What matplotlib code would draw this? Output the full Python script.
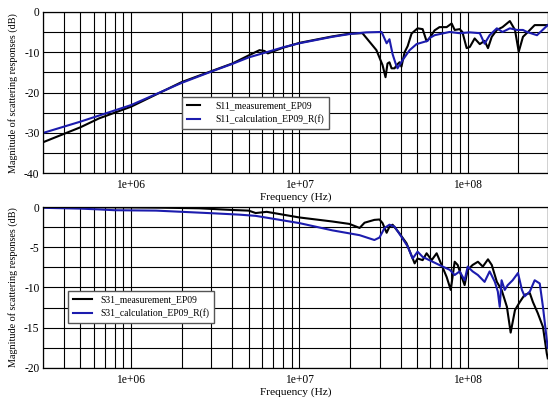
import numpy as np
import matplotlib
matplotlib.use('Agg')
import matplotlib.pyplot as plt
from matplotlib.ticker import LogLocator, FixedLocator, MultipleLocator, FixedFormatter

plt.rcParams['font.family'] = ['Liberation Serif', 'DejaVu Serif']
plt.rcParams['axes.unicode_minus'] = False

# S11 (top panel), frequency in MHz, magnitude in dB
s11_meas_f = [0.3, 0.5, 0.645, 1.0, 2.0, 3.0, 4.0, 5.0, 5.8, 6.2, 6.5, 8.0, 10, 15.7, 20, 23.7,
              28.7, 31.2, 32.5, 33.4, 34.3, 35.3, 36.8, 37.8, 39.4, 40.4, 42.2, 44.0, 46.4,
              50.4, 54.0, 57.0, 59.4, 63.6, 68.0, 75.0, 80.3, 83.7, 89.6, 93.0, 98.6, 103,
              110, 118, 126, 132, 139, 149, 161, 178, 191, 201, 213, 228, 250, 299]
s11_meas = [-32.3, -28.6, -26.4, -23.5, -17.4, -14.7, -12.8, -10.8, -9.5, -9.7, -10.3, -8.9, -7.7,
            -6.1, -5.4, -5.3, -9.5, -13.2, -16.2, -12.8, -12.5, -14.0, -14.0, -13.2, -12.5,
            -13.6, -10.0, -8.5, -5.4, -4.1, -4.3, -7.3, -6.5, -4.6, -3.8, -3.8, -2.9, -4.5,
            -4.3, -5.0, -9.0, -8.7, -6.6, -8.0, -7.2, -9.0, -6.2, -4.5, -3.8, -2.3, -4.5,
            -9.9, -6.2, -5.0, -3.3, -3.3]

s11_calc_f = [0.3, 0.5, 1.0, 2.0, 3.0, 4.0, 5.0, 6.4, 8.0, 10, 15.7, 20, 25, 30.8, 33.0, 34.3,
              35.8, 37.3, 38.3, 41.0, 45.2, 49.7, 57.8, 59.4, 63.6, 78.0, 89.6, 103, 118,
              126, 135, 149, 161, 178, 196, 213, 225, 258, 299]
s11_calc = [-30.0, -27.2, -23.1, -17.6, -14.8, -12.9, -11.3, -10.0, -8.8, -7.8, -6.2, -5.5,
            -5.1, -5.0, -7.8, -6.8, -10.5, -12.8, -14.0, -12.0, -9.5, -8.0, -7.2, -6.5, -5.8,
            -5.0, -5.3, -5.1, -5.3, -7.9, -5.8, -4.1, -5.0, -4.1, -4.5, -4.5, -5.0, -5.8, -3.3]

# S31 (bottom panel)
s31_meas_f = [0.3, 0.5, 1.0, 1.5, 2.54, 4.0, 5.0, 5.5, 6.4, 10, 15.7, 19.8, 22.8, 24.4, 27.9,
              29.9, 31.2, 33.0, 34.3, 35.8, 39.4, 43.3, 48.4, 50.4, 54.0, 57.0, 61.1, 65.4,
              70.0, 75.0, 79.3, 83.7, 87.2, 92.1, 95.9, 100, 107, 115, 123, 132, 139, 149,
              159, 171, 180, 191, 204, 218, 234, 244, 261, 280, 295, 299]
s31_meas = [0.0, -0.02, -0.05, -0.08, -0.16, -0.37, -0.45, -0.75, -0.6, -1.3, -1.8, -2.1, -2.6,
            -1.95, -1.6, -1.55, -2.0, -3.2, -2.45, -2.2, -3.3, -4.5, -7.0, -6.4, -6.6, -5.75,
            -6.6, -5.75, -7.2, -8.7, -10.3, -6.8, -7.2, -8.7, -9.7, -7.8, -7.2, -6.8, -7.4,
            -6.5, -7.2, -9.3, -10.3, -12.4, -15.6, -12.8, -11.8, -10.9, -10.7, -11.8, -13.2,
            -14.9, -18.2, -18.8]

s31_calc_f = [0.3, 0.5, 0.645, 0.8, 1.41, 2.01, 3.2, 4.4, 5.5, 10, 15.7, 22.8, 27.9, 29.9, 32.1,
              34.3, 36.8, 40.4, 44.0, 47.1, 50.4, 54.0, 61.9, 71.0, 78.2, 83.7, 89.6, 95.9,
              100, 107, 115, 126, 135, 145, 151, 155, 159, 166, 173, 185, 199, 210, 218, 234,
              250, 268, 280, 295, 299]
s31_calc = [-0.1, -0.2, -0.3, -0.4, -0.45, -0.6, -0.8, -0.95, -1.1, -2.0, -2.9, -3.5, -4.1,
            -3.8, -2.6, -2.2, -2.45, -3.7, -4.9, -6.4, -5.55, -6.2, -6.8, -7.4, -7.8, -8.45,
            -8.0, -9.1, -7.4, -8.0, -8.45, -9.3, -8.0, -9.3, -10.5, -12.4, -9.1, -10.3, -9.7,
            -9.1, -8.2, -10.3, -11.1, -10.5, -9.1, -9.5, -12.4, -16.5, -17.5]

BLUE = '#1c1cae'

fig = plt.figure(figsize=(5.48, 3.99), dpi=100)
ax1 = fig.add_axes([0.0785, 0.5655, 0.9215, 0.405])
ax2 = fig.add_axes([0.0785, 0.0777, 0.9215, 0.4035])


def style(ax, ymin, ystep):
    ax.set_xscale('log')
    ax.set_xlim(3e5, 3e8)
    ax.set_ylim(ymin, 0)
    ax.xaxis.set_major_locator(FixedLocator([1e6, 1e7, 1e8]))
    ax.xaxis.set_major_formatter(FixedFormatter(['1e+06', '1e+07', '1e+08']))
    ax.xaxis.set_minor_locator(LogLocator(base=10, subs=np.arange(2, 10)))
    ax.xaxis.set_minor_formatter(plt.NullFormatter())
    ax.yaxis.set_major_locator(MultipleLocator(ystep))
    ax.yaxis.set_minor_locator(MultipleLocator(ystep / 2))
    ax.grid(True, which='both', color='black', linewidth=0.8)
    ax.tick_params(which='both', length=0, labelsize=8.3)
    ax.tick_params(axis='x', pad=4)
    ax.tick_params(axis='y', pad=2.5)
    for s in ax.spines.values():
        s.set_linewidth(0.9)
    ax.set_xlabel('Frequency (Hz)', fontsize=8.2, labelpad=1)
    ax.set_ylabel('Magnitude of scattering responses (dB)', fontsize=7.3, labelpad=4.5)


ax1.plot(np.array(s11_meas_f) * 1e6, s11_meas, color='black', lw=1.5, label='S11_measurement_EP09')
ax1.plot(np.array(s11_calc_f) * 1e6, s11_calc, color=BLUE, lw=1.5, label='S11_calculation_EP09_R(f)')
style(ax1, -40, 10)
ax1.legend(loc='lower left', bbox_to_anchor=(0.275, 0.274), borderaxespad=0, fontsize=6.9,
           fancybox=False, framealpha=1, edgecolor='#555555', handlelength=1.35,
           handletextpad=1.65, borderpad=0.5, labelspacing=0.4)

ax2.plot(np.array(s31_meas_f) * 1e6, s31_meas, color='black', lw=1.5, label='S31_measurement_EP09')
ax2.plot(np.array(s31_calc_f) * 1e6, s31_calc, color=BLUE, lw=1.5, label='S31_calculation_EP09_R(f)')
style(ax2, -20, 5)
ax2.legend(loc='lower left', bbox_to_anchor=(0.05, 0.28), borderaxespad=0, fontsize=6.9,
           fancybox=False, framealpha=1, edgecolor='#555555', handlelength=2.0,
           handletextpad=0.85, borderpad=0.5, labelspacing=0.4)

fig.savefig('out.png', dpi=100, facecolor='white')
